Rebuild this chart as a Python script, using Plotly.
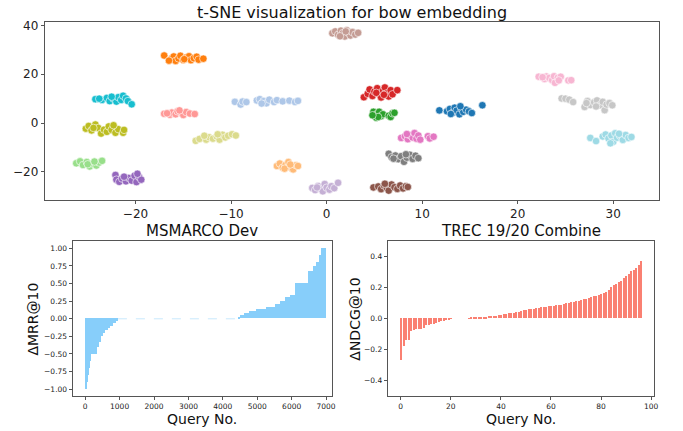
import plotly.graph_objects as go

W, H = 683, 431

# ---------------- t-SNE clusters (x, y) ----------------
c_lightbrown = [(0.6,36.8),(0.9,37.6),(1.2,36.2),(1.5,37.9),(1.7,36.9),(1.9,35.5),(2.1,38.1),(2.3,37.0),(2.5,35.9),(2.7,37.3),(3.0,36.3),(3.3,37.0),(1.4,35.6),(2.0,37.6)]
c_orange = [(-17.0,27.7),(-16.2,26.6),(-16.0,27.3),(-15.8,25.5),(-15.5,26.5),(-15.3,27.6),(-15.0,25.9),(-14.7,26.9),(-14.4,27.4),(-14.2,25.8),(-13.9,26.6),(-13.6,27.2),(-13.4,26.0),(-12.9,26.4),(-16.5,25.6),(-14.9,26.2)]
c_red = [(3.9,10.6),(4.3,12.0),(4.5,13.8),(4.8,11.1),(5.0,12.9),(5.3,14.3),(5.5,11.8),(5.7,10.5),(5.9,13.2),(6.1,14.6),(6.3,12.2),(6.5,10.9),(6.7,13.5),(6.9,11.8),(7.4,13.5),(5.2,12.4),(6.0,11.6)]
c_cyan = [(-24.2,9.8),(-23.5,9.5),(-23.0,10.3),(-22.7,9.0),(-22.3,10.0),(-22.0,8.8),(-21.8,10.6),(-21.5,9.5),(-21.3,11.2),(-21.0,10.1),(-20.8,9.0),(-20.4,7.7),(-23.8,10.0),(-22.5,10.8)]
c_lightblue = [(-9.6,8.7),(-9.0,7.6),(-8.8,8.8),(-8.4,8.6),(-7.3,9.3),(-7.0,9.8),(-6.6,9.0),(-6.3,8.1),(-6.0,9.6),(-5.5,8.6),(-5.2,9.4),(-4.6,8.9),(-3.9,9.2),(-3.3,8.6),(-3.0,9.1),(-6.8,8.0)]
c_lightred = [(-17.0,3.8),(-16.4,3.4),(-16.2,4.3),(-15.8,3.6),(-15.6,4.8),(-15.2,4.1),(-15.0,3.3),(-14.7,4.5),(-14.3,3.9),(-13.8,3.7),(-16.7,4.0),(-15.4,5.2)]
c_green = [(4.9,4.6),(5.0,3.0),(5.2,2.2),(5.3,3.8),(5.5,4.6),(5.7,2.8),(5.9,3.6),(5.4,2.5),(6.5,3.0),(6.7,2.5),(6.9,4.0),(7.1,4.2),(4.8,3.2)]
c_blue = [(11.8,5.2),(12.6,4.8),(12.9,5.8),(13.2,4.2),(13.4,6.3),(13.6,5.1),(13.9,3.6),(14.1,6.0),(14.3,4.6),(14.6,5.5),(14.9,4.8),(15.2,4.1),(16.3,7.3),(13.0,3.7),(14.0,6.9)]
c_lightpink = [(22.2,19.0),(22.8,18.1),(23.0,19.1),(23.3,18.5),(23.6,17.6),(23.8,19.2),(23.9,16.5),(24.2,18.6),(24.5,19.0),(24.3,17.5),(25.3,17.5),(25.6,17.6),(22.6,18.8)]
c_lightgray = [(24.6,10.1),(25.0,10.0),(25.4,9.6),(25.8,8.6),(27.0,6.6),(27.3,9.0),(27.6,7.4),(28.0,8.5),(28.3,9.3),(28.6,7.3),(28.9,8.7),(29.1,5.3),(29.3,7.6),(29.6,8.2),(29.9,7.3),(28.2,6.8),(27.2,8.2)]
c_olive = [(-25.2,-2.3),(-24.9,-1.2),(-24.6,-3.0),(-24.2,-0.6),(-23.9,-2.0),(-23.6,-4.3),(-23.3,-2.7),(-23.0,-3.6),(-22.8,-1.4),(-22.5,-2.8),(-22.1,-4.0),(-21.8,-2.5),(-21.3,-4.0),(-21.2,-2.8),(-24.4,-2.0),(-22.3,-0.9)]
c_lightolive = [(-13.7,-7.3),(-13.3,-6.5),(-12.6,-6.8),(-12.3,-5.8),(-11.9,-6.4),(-11.5,-5.5),(-11.2,-6.8),(-10.9,-4.8),(-10.6,-5.9),(-10.3,-5.2),(-9.9,-4.6),(-9.5,-5.1),(-12.8,-5.2),(-11.4,-4.6)]
c_pink = [(7.8,-6.1),(8.2,-5.4),(8.5,-6.6),(8.7,-4.9),(9.0,-5.9),(9.2,-4.1),(9.4,-6.4),(9.6,-5.1),(9.8,-6.8),(10.6,-5.4),(10.8,-6.3),(11.2,-5.6),(8.4,-4.5)]
c_lightcyan = [(27.6,-6.1),(28.2,-7.4),(28.9,-5.5),(29.2,-4.7),(29.5,-6.3),(29.8,-5.1),(30.0,-7.7),(30.2,-4.2),(30.4,-6.0),(30.7,-5.2),(31.0,-6.9),(31.3,-4.9),(31.6,-6.1),(31.9,-5.7),(29.7,-8.3),(30.6,-4.4)]
c_gray = [(6.5,-12.6),(6.8,-14.0),(7.2,-13.3),(7.5,-14.8),(7.8,-13.6),(8.1,-15.9),(8.4,-14.2),(8.7,-13.0),(9.0,-14.7),(9.3,-13.4),(9.6,-14.4),(7.0,-14.6),(8.3,-12.8)]
c_lightgreen = [(-26.2,-16.5),(-25.8,-15.7),(-25.5,-17.2),(-25.1,-16.0),(-24.8,-17.8),(-24.5,-16.6),(-24.1,-17.4),(-23.8,-16.2),(-23.5,-15.5),(-25.0,-16.9),(-24.3,-15.8)]
c_lightorange = [(-5.2,-17.6),(-4.9,-16.6),(-4.6,-18.3),(-4.3,-17.2),(-4.0,-16.0),(-3.7,-18.4),(-3.5,-19.0),(-3.2,-17.3),(-3.0,-17.6),(-4.4,-18.7),(-3.8,-17.0)]
c_purple = [(-22.1,-21.3),(-22.0,-23.2),(-21.7,-24.1),(-21.4,-22.8),(-21.0,-23.9),(-20.7,-22.5),(-20.4,-23.6),(-20.1,-21.6),(-19.9,-24.2),(-19.6,-22.2),(-19.4,-23.2),(-21.2,-22.0),(-19.8,-20.8)]
c_lightpurple = [(-1.5,-26.6),(-1.2,-27.5),(-0.9,-25.8),(-0.6,-27.0),(-0.4,-28.0),(-0.2,-25.0),(0.0,-26.5),(0.3,-27.3),(0.5,-25.9),(0.8,-26.7),(1.2,-24.5),(-1.0,-26.4)]
c_brown = [(4.9,-26.4),(5.4,-26.0),(5.7,-27.1),(6.0,-25.6),(6.3,-26.6),(6.5,-27.7),(6.8,-25.2),(7.1,-26.3),(7.4,-27.0),(7.7,-25.6),(8.0,-26.8),(8.3,-25.9),(8.5,-26.2),(6.1,-24.9)]

clusters = [
    (c_blue, "#1f77b4"), (c_lightblue, "#aec7e8"), (c_orange, "#ff7f0e"),
    (c_lightorange, "#ffbb78"), (c_green, "#2ca02c"), (c_lightgreen, "#98df8a"),
    (c_red, "#d62728"), (c_lightred, "#ff9896"), (c_purple, "#9467bd"),
    (c_lightpurple, "#c5b0d5"), (c_brown, "#8c564b"), (c_lightbrown, "#c49c94"),
    (c_pink, "#e377c2"), (c_lightpink, "#f7b6d2"), (c_gray, "#7f7f7f"),
    (c_lightgray, "#c7c7c7"), (c_olive, "#bcbd22"), (c_lightolive, "#dbdb8d"),
    (c_cyan, "#17becf"), (c_lightcyan, "#9edae5"),
]

# ---------------- MSMARCO Dev: sorted delta MRR@10 as runs (start, end, value) ----------------
msmarco_run_start = [0, 20, 45, 80, 120, 160, 330, 380, 450, 500, 560, 640, 720, 800, 870, 950,
                     4420, 4500, 4600, 4750, 4950, 5250, 5500, 5650, 5800, 5950, 6080, 6450, 6600, 6700, 6780, 6850]
msmarco_run_end = [20, 45, 80, 120, 160, 330, 380, 450, 500, 560, 640, 720, 800, 870, 950, 4420,
                   4500, 4600, 4750, 4950, 5250, 5500, 5650, 5800, 5950, 6080, 6450, 6600, 6700, 6780, 6850, 6980]
msmarco_run_value = [-1.0, -0.9, -0.8, -0.7, -0.6, -0.5, -0.4, -0.33, -0.25, -0.2, -0.17, -0.14, -0.11, -0.07, -0.03, 0.0,
                     0.02, 0.05, 0.08, 0.11, 0.14, 0.167, 0.2, 0.25, 0.3, 0.333, 0.5, 0.667, 0.75, 0.8, 0.9, 1.0]

# ---------------- TREC 19/20 Combine: sorted delta NDCG@10 per query ----------------
trec_values = [
    -0.265, -0.18, -0.14, -0.14, -0.08, -0.075, -0.07, -0.068, -0.065, -0.063,
    -0.045, -0.042, -0.038, -0.033, -0.028, -0.024, -0.019, -0.014, -0.010, -0.006,
    -0.003, 0.0, 0.0, 0.0, 0.0, 0.0, 0.0, 0.002, 0.003, 0.004,
    0.005, 0.006, 0.008, 0.009, 0.011, 0.013, 0.015, 0.017, 0.019, 0.021,
    0.024, 0.027, 0.030, 0.033, 0.036, 0.038, 0.040, 0.043, 0.048, 0.052,
    0.055, 0.058, 0.061, 0.064, 0.067, 0.070, 0.072, 0.074, 0.076, 0.078,
    0.080, 0.082, 0.084, 0.086, 0.088, 0.092, 0.098, 0.102, 0.104, 0.106,
    0.110, 0.114, 0.118, 0.124, 0.128, 0.134, 0.140, 0.144, 0.148, 0.152,
    0.156, 0.162, 0.172, 0.185, 0.200, 0.215, 0.225, 0.235, 0.245, 0.260,
    0.275, 0.285, 0.305, 0.310, 0.325, 0.345, 0.370,
]
trec_query = list(range(len(trec_values)))

fig = go.Figure()

for pts, col in clusters:
    fig.add_trace(go.Scatter(
        x=[p[0] for p in pts], y=[p[1] for p in pts], mode="markers",
        marker=dict(size=7.5, color=col, line=dict(color="white", width=0.6)),
        xaxis="x", yaxis="y", showlegend=False, hoverinfo="skip"))

ms_x = [(s + e) / 2 - 0.5 for s, e in zip(msmarco_run_start, msmarco_run_end)]
ms_w = [e - s for s, e in zip(msmarco_run_start, msmarco_run_end)]
fig.add_trace(go.Bar(x=ms_x, y=msmarco_run_value, width=ms_w,
                     marker=dict(color="#87cefa", line=dict(width=0)),
                     xaxis="x2", yaxis="y2", showlegend=False))
# faint trace along zero for the zero-valued run
zero_idx = [i for i, v in enumerate(msmarco_run_value) if v == 0.0]
for i in zero_idx:
    fig.add_trace(go.Scatter(x=[msmarco_run_start[i], msmarco_run_end[i]], y=[0, 0], mode="lines",
                             line=dict(color="#87cefa", width=1, dash="dash"), opacity=0.45,
                             xaxis="x2", yaxis="y2", showlegend=False, hoverinfo="skip"))

fig.add_trace(go.Bar(x=trec_query, y=trec_values, width=0.8,
                     marker=dict(color="#fa8072", line=dict(width=0)),
                     xaxis="x3", yaxis="y3", showlegend=False))

def px_x(p):
    return p / W

def px_y(p):
    return 1 - p / H

frame = dict(showline=True, mirror=True, linecolor="#555", linewidth=1, showgrid=False,
             zeroline=False, ticks="outside", ticklen=3, tickcolor="#555", tickwidth=0.8)

fig.update_layout(
    width=W, height=H, margin=dict(l=0, r=0, t=0, b=0),
    paper_bgcolor="white", plot_bgcolor="white",
    font=dict(family="DejaVu Sans", color="#222"),
    bargap=0,
    xaxis=dict(domain=[px_x(45), px_x(663)], range=[-29.5, 34.8], tickvals=[-20, -10, 0, 10, 20, 30],
               tickfont=dict(size=12), anchor="y", **frame),
    yaxis=dict(domain=[px_y(198), px_y(19)], range=[-31.4, 41.5], tickvals=[-20, 0, 20, 40],
               tickfont=dict(size=12), anchor="x", **frame),
    xaxis2=dict(domain=[px_x(73), px_x(334)], range=[-367, 7174], tickvals=list(range(0, 7001, 1000)),
                tickfont=dict(size=7.5), anchor="y2", **frame),
    yaxis2=dict(domain=[px_y(396), px_y(240)], range=[-1.1, 1.1],
                tickvals=[-1.0, -0.75, -0.5, -0.25, 0.0, 0.25, 0.5, 0.75, 1.0], tickformat=".2f",
                tickfont=dict(size=7.5), anchor="x2", **frame),
    xaxis3=dict(domain=[px_x(390), px_x(658)], range=[-5.2, 101.2], tickvals=[0, 20, 40, 60, 80, 100],
                tickfont=dict(size=7.5), anchor="y3", **frame),
    yaxis3=dict(domain=[px_y(396), px_y(240)], range=[-0.5, 0.5], tickvals=[-0.4, -0.2, 0.0, 0.2, 0.4],
                tickformat=".1f", tickfont=dict(size=7.5), anchor="x3", **frame),
)

ann = [
    dict(text="t-SNE visualization for bow embedding", x=px_x(354), y=px_y(10), size=16, angle=0),
    dict(text="MSMARCO Dev", x=px_x(203.5), y=px_y(230), size=15, angle=0),
    dict(text="TREC 19/20 Combine", x=px_x(524), y=px_y(230), size=15, angle=0),
    dict(text="Query No.", x=px_x(203.5), y=px_y(419), size=14, angle=0),
    dict(text="Query No.", x=px_x(524), y=px_y(419), size=14, angle=0),
    dict(text="ΔMRR@10", x=px_x(33), y=px_y(318), size=14, angle=-90),
    dict(text="ΔNDCG@10", x=px_x(357), y=px_y(318), size=14, angle=-90),
]
for a in ann:
    fig.add_annotation(text=a["text"], x=a["x"], y=a["y"], xref="paper", yref="paper",
                       xanchor="center", yanchor="middle", showarrow=False, textangle=a["angle"],
                       font=dict(size=a["size"], color="#111", family="DejaVu Sans"))

fig.write_html("out.html", config={"displayModeBar": False},
               post_script="document.body.style.margin='0';document.body.style.overflow='hidden';")
